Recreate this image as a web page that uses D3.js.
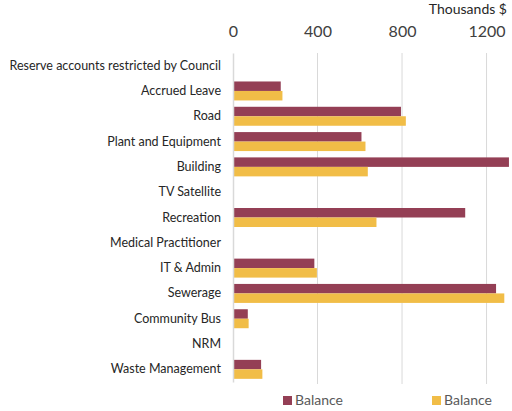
<!DOCTYPE html>
<html>
<head>
<meta charset="utf-8">
<script src="https://cdn.jsdelivr.net/npm/d3@7"></script>
<style>
  body { margin: 0; background: #fff; }
  #chart { width: 512px; height: 411px; }
  text { font-family: Lato, "Open Sans", sans-serif; }
</style>
</head>
<body>
<div id="chart"></div>
<script>
const categories = ["Reserve accounts restricted by Council", "Accrued Leave", "Road", "Plant and Equipment",
    "Building", "TV Satellite", "Recreation", "Medical Practitioner", "IT & Admin", "Sewerage",
    "Community Bus", "NRM", "Waste Management"];
const balanceA = [null, 226, 795, 608, 1306, null, 1099, null, 385, 1245, 70, null, 133];
const balanceB = [null, 234, 818, 627, 638, null, 679, null, 397, 1284, 74, null, 139];
const seriesNames = ["Balance", "Balance"];
const xTicks = [0, 400, 800, 1200];
const colors = ["#943F55", "#F1BD47"];

const margin = {top: 53, right: 2, bottom: 29, left: 233};
const W = 512, H = 411;
const width = W - margin.left - margin.right;
const height = H - margin.top - margin.bottom;

const svg = d3.select("#chart").append("svg")
    .attr("width", W)
    .attr("height", H);

const g = svg.append("g")
    .attr("transform", `translate(${margin.left}, ${margin.top})`);

const x = d3.scaleLinear()
    .domain([0, 1311])
    .range([0, width]);

const y = d3.scaleBand()
    .domain(categories)
    .range([0, height])
    .paddingInner(0.25)
    .paddingOuter(0.125);

const sub = d3.scaleBand()
    .domain([0, 1])
    .range([0, y.bandwidth()]);

// gridlines
g.selectAll(".grid")
    .data(xTicks.slice(1))
    .enter()
    .append("line")
    .attr("x1", d => x(d))
    .attr("x2", d => x(d))
    .attr("y1", 0)
    .attr("y2", height + 2)
    .attr("stroke", "#d9d9d9")
    .attr("stroke-width", 1);

// top axis labels
const xAxis = g.append("g")
    .attr("transform", "translate(0, -16)")
    .call(d3.axisTop(x).tickValues(xTicks).tickFormat(d3.format("d")).tickSize(0).tickPadding(0));
xAxis.select(".domain").remove();
xAxis.selectAll("text")
    .attr("font-size", 16)
    .attr("fill", "#404040")
    .attr("font-family", "Lato, sans-serif");

svg.append("text")
    .attr("x", 507)
    .attr("y", 14)
    .attr("text-anchor", "end")
    .attr("font-size", 14)
    .attr("fill", "#262626")
    .text("Thousands $");

// bars
const rows = categories.map((c, i) => ({cat: c, vals: [balanceA[i], balanceB[i]]}));
const rowG = g.selectAll(".row")
    .data(rows)
    .enter()
    .append("g")
    .attr("transform", d => `translate(0, ${y(d.cat)})`);

rowG.selectAll("rect")
    .data(d => d.vals.map((v, k) => ({v, k})).filter(e => e.v != null))
    .enter()
    .append("rect")
    .attr("x", x(0))
    .attr("y", d => sub(d.k))
    .attr("width", d => Math.min(x(d.v), width) - x(0))
    .attr("height", sub.bandwidth())
    .attr("fill", d => colors[d.k]);

// left axis
const yAxis = g.append("g")
    .call(d3.axisLeft(y).tickSize(0).tickPadding(12));
yAxis.select(".domain")
    .attr("stroke", "#d9d9d9")
    .attr("stroke-width", 1.5);
yAxis.selectAll("text")
    .attr("font-size", 12.5)
    .attr("fill", "#262626")
    .attr("font-family", "Lato, sans-serif");

// legend
const legend = svg.append("g")
    .attr("transform", "translate(283, 396)");
const legItems = legend.selectAll(".leg")
    .data(seriesNames)
    .enter()
    .append("g")
    .attr("transform", (d, i) => `translate(${i * 149}, 0)`);
legItems.append("rect")
    .attr("width", 9)
    .attr("height", 9)
    .attr("fill", (d, i) => colors[i]);
legItems.append("text")
    .attr("x", 12)
    .attr("y", 9)
    .attr("font-size", 14)
    .attr("fill", "#595959")
    .text(d => d);
</script>
</body>
</html>
